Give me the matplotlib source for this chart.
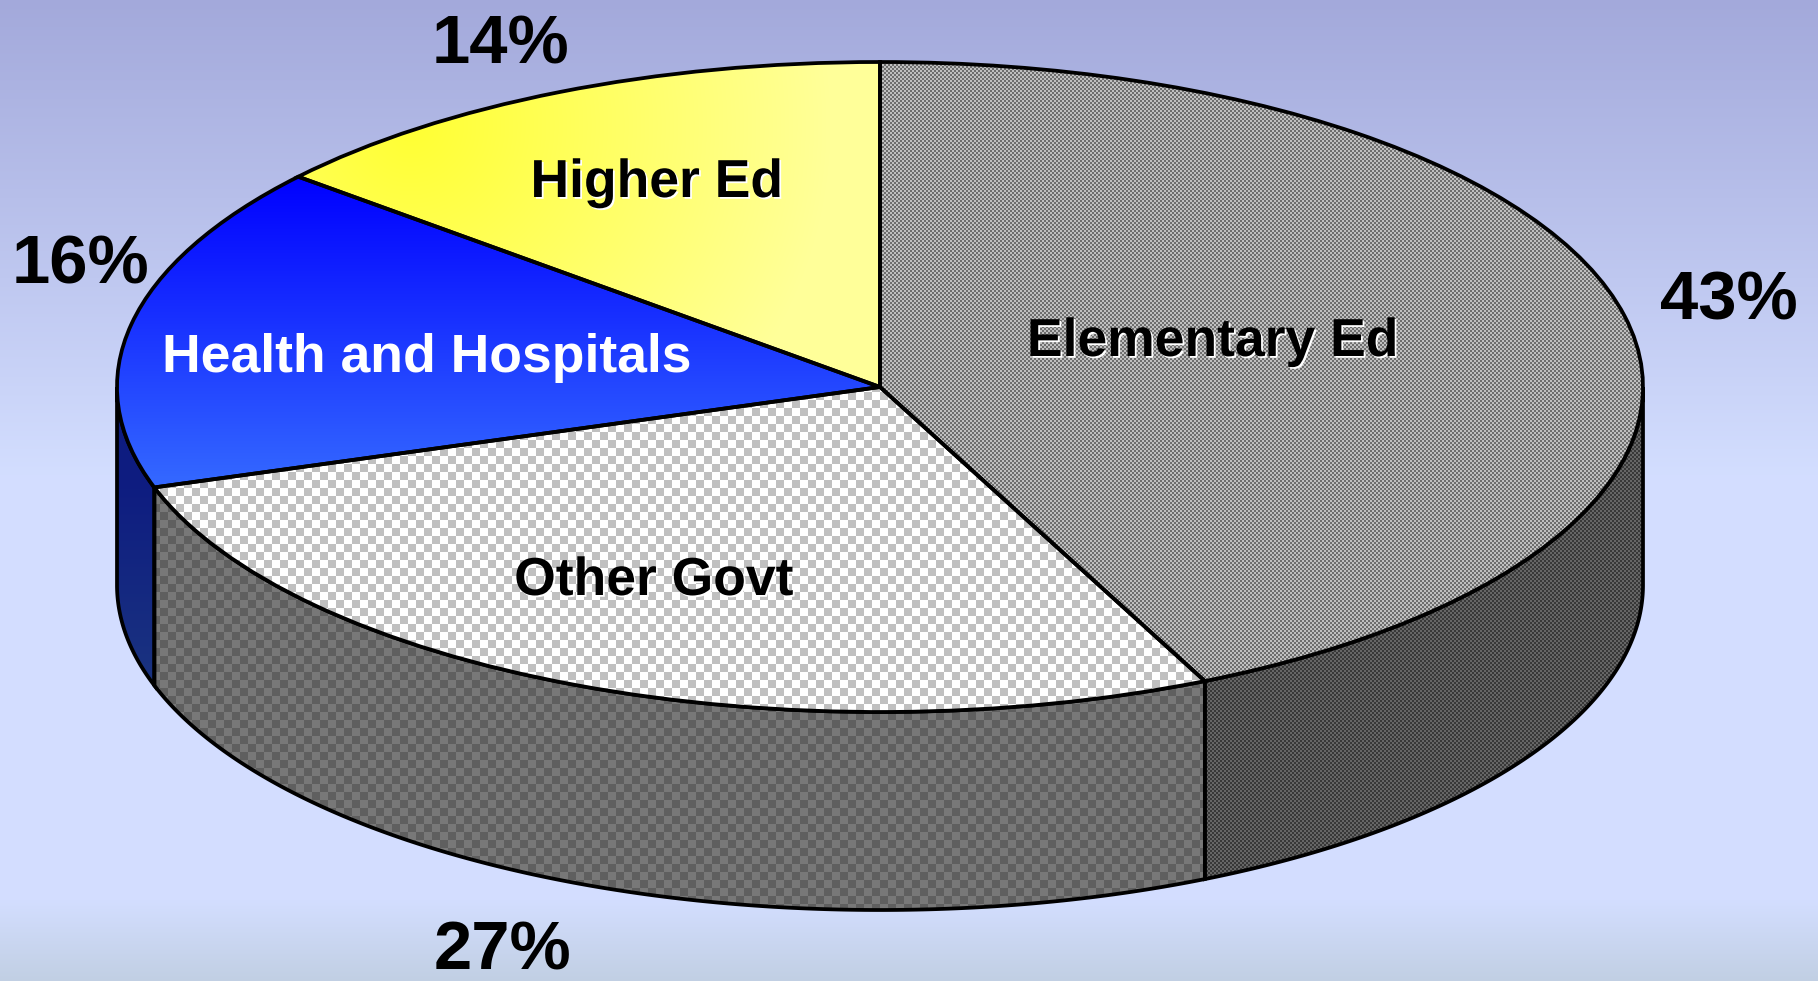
import numpy as np
import matplotlib
matplotlib.use("Agg")
import matplotlib.pyplot as plt
import matplotlib.patheffects as pe
from matplotlib.patches import Polygon
from matplotlib.colors import to_rgb

plt.rcParams['font.family'] = ['Liberation Sans', 'DejaVu Sans']

# slices go clockwise from 12 o'clock
labels = ['Elementary Ed', 'Other Govt', 'Health and Hospitals', 'Higher Ed']
values = [43.0, 27.0, 16.2, 13.8]
label_px = [(1213, 342), (654, 581), (427, 358), (657, 183)]
label_col = ['black', 'black', 'white', 'black']
pct_px = [(1729, 301), (503, 952), (81, 266), (501, 45)]

W, H = 1818, 981
CX, CY, RX, RY = 880, 387, 763, 325   # top ellipse in pixels
DEPTH = 198 / RY                      # thickness of the pie in y units

yy, xx = np.mgrid[0:H, 0:W]


def gradient(t, c0, c1):
    t = np.clip(t, 0, 1)[..., None]
    return np.array(to_rgb(c0)) * (1 - t) + np.array(to_rgb(c1)) * t


def checker(cell, c0, c1):
    m = ((xx // cell + yy // cell) % 2)[..., None]
    return np.array(to_rgb(c0)) * (1 - m) + np.array(to_rgb(c1)) * m


# background
bg = gradient(yy / 475, '#a3a9db', '#d3deff')
low = yy > 900
bg[low] = gradient((yy[low] - 900) / 81, '#d3deff', '#c1cfe3')

top_tex = [
    checker(2, '#6e6e6e', '#c0c0c0'),
    checker(8, '#ffffff', '#c0c0c0'),
    gradient((yy - 176) / 300, '#0000ff', '#3366ff'),
    gradient(np.hypot(xx - 410, yy - 125) / 420, '#ffff33', '#ffff99'),
]
side_tex = [
    checker(2, '#383838', '#666666'),
    checker(8, '#5f5f5f', '#787878'),
    gradient((yy - 480) / 200, '#0e1c80', '#1a3380'),
    None,
]

fig = plt.figure(figsize=(W / 100, H / 100), dpi=100)
ax = fig.add_axes([0, 0, 1, 1])
wedges, _ = ax.pie(values, startangle=90, counterclock=False, radius=1,
                   wedgeprops=dict(facecolor='none', edgecolor='black', linewidth=2.7, zorder=5))
ax.set_aspect('auto')
xlim = (-CX / RX, (W - CX) / RX)
ylim = ((CY - H) / RY, CY / RY)
extent = (xlim[0], xlim[1], ylim[0], ylim[1])


def paint(tex, clip, z):
    im = ax.imshow(tex, extent=extent, origin='upper', aspect='auto',
                   interpolation='nearest', zorder=z)
    im.set_clip_path(clip)


ax.imshow(bg, extent=extent, origin='upper', aspect='auto', zorder=0)

edges = np.cumsum([0] + values) / sum(values) * 2 * np.pi
for i in range(len(values)):
    # only the front half of the rim can be seen
    a0 = max(edges[i], np.pi / 2)
    a1 = min(edges[i + 1], 3 * np.pi / 2)
    if a1 <= a0:
        continue
    t = np.linspace(a0, a1, 200)
    x, y = np.sin(t), np.cos(t)
    pts = np.r_[np.c_[x, y], np.c_[x[::-1], y[::-1] - DEPTH]]
    poly = Polygon(pts, closed=True, facecolor='none', edgecolor='black', linewidth=2.7, zorder=3)
    ax.add_patch(poly)
    paint(side_tex[i], poly, 2)

for i, w in enumerate(wedges):
    paint(top_tex[i], w, 4)

ax.set_xlim(xlim)
ax.set_ylim(ylim)

shadow = [pe.SimplePatchShadow(offset=(1.3, -1.3), shadow_rgbFace='white', alpha=1), pe.Normal()]
for name, (px, py), col in zip(labels, label_px, label_col):
    t = fig.text(px / W, 1 - py / H, name, fontsize=38.5, fontweight='bold', color=col,
                 ha='center', va='center', zorder=10)
    if col == 'black':
        t.set_path_effects(shadow)

for v, (px, py) in zip(values, pct_px):
    fig.text(px / W, 1 - py / H, f'{v:.0f}%', fontsize=49.5, fontweight='bold', color='black',
             ha='center', va='center', zorder=10)

fig.savefig('out.png', dpi=100)
